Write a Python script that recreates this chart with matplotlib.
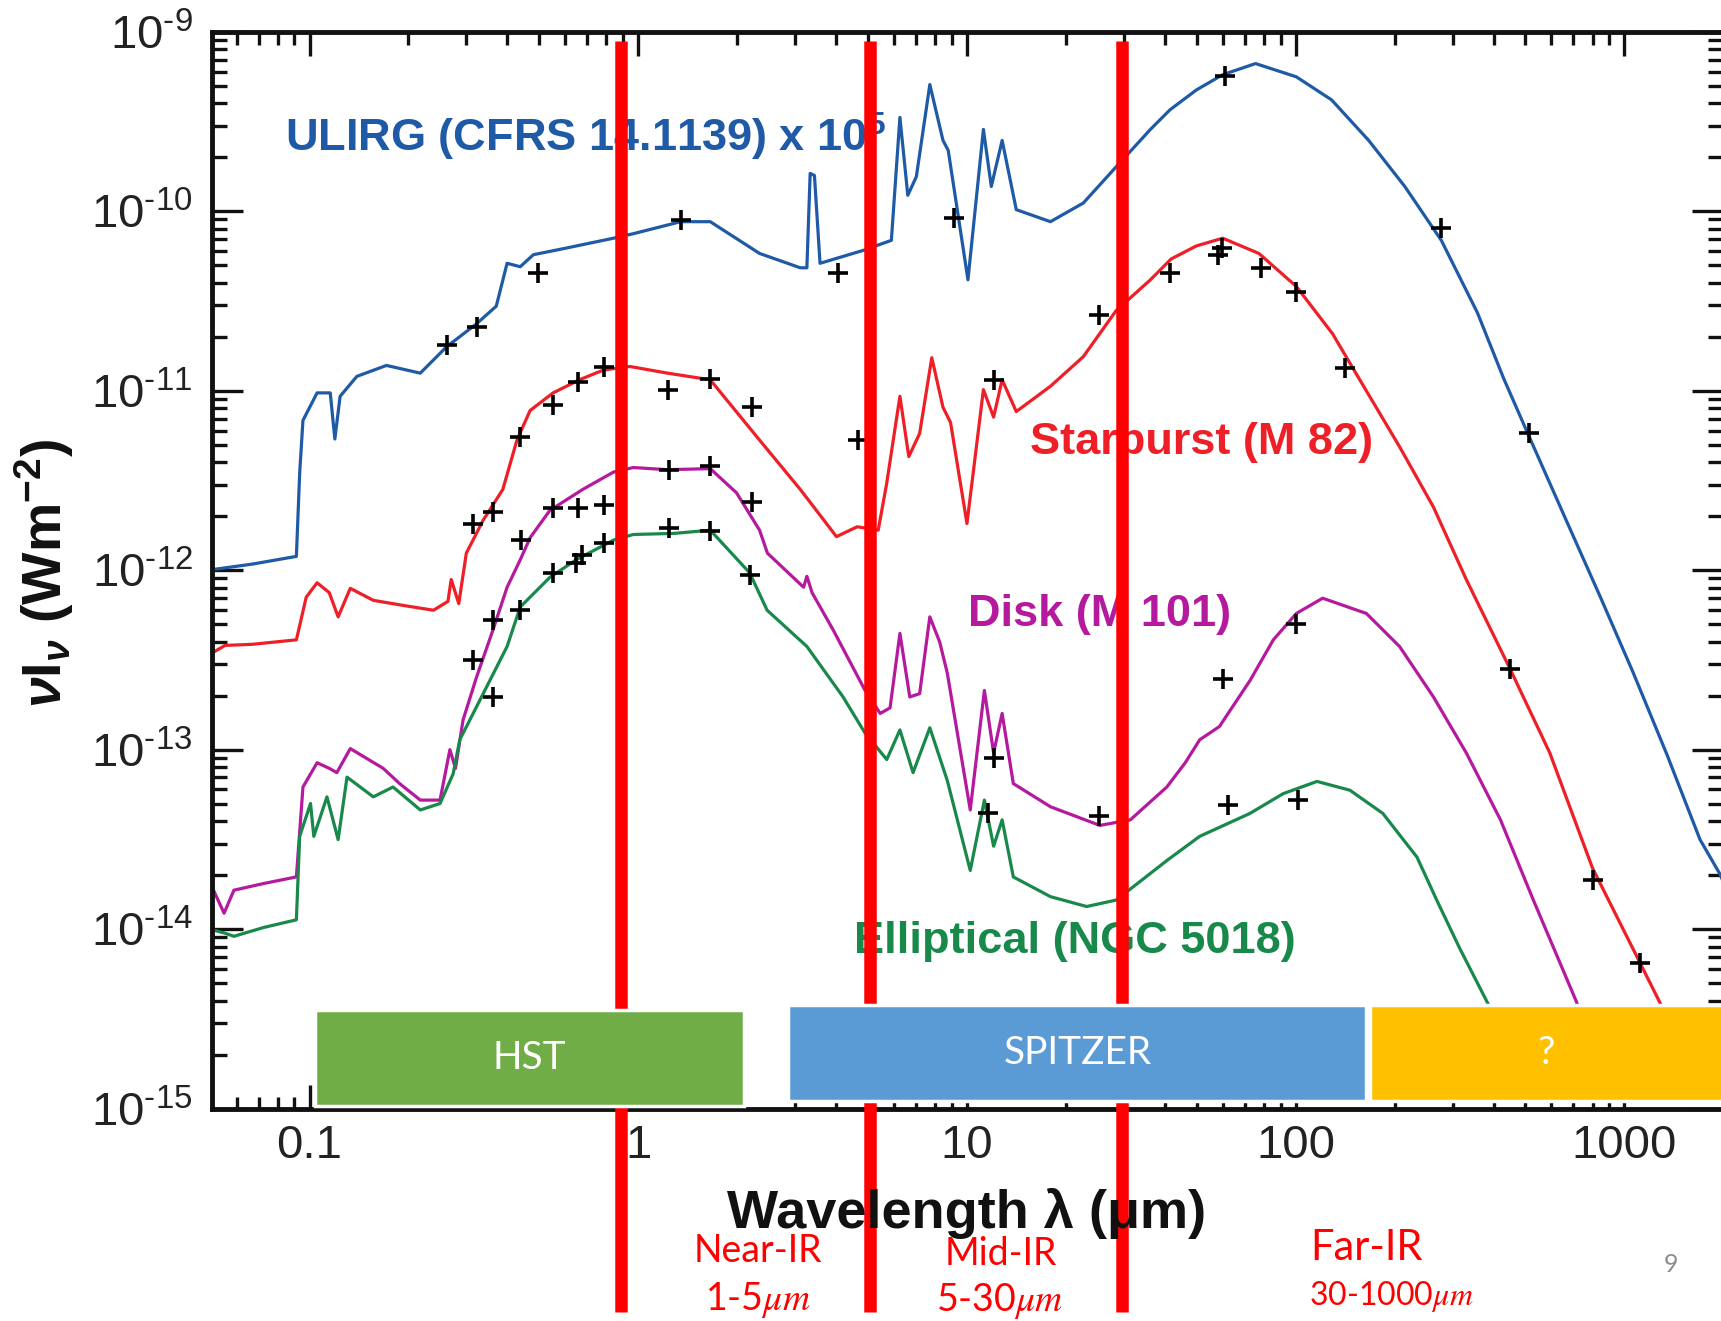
import numpy as np
import matplotlib
matplotlib.use('Agg')
import matplotlib.pyplot as plt
from matplotlib.patches import Rectangle
from matplotlib.ticker import LogLocator, NullFormatter

plt.rcParams['font.family'] = 'Liberation Sans'
plt.rcParams['mathtext.fontset'] = 'custom'
plt.rcParams['mathtext.rm'] = 'Liberation Sans'
plt.rcParams['mathtext.it'] = 'Liberation Sans:italic'
plt.rcParams['mathtext.bf'] = 'Liberation Sans:bold'
plt.rcParams['mathtext.bfit'] = 'Liberation Sans:bold:italic'

# SED templates: (log10 lambda/um, log10 nuI_nu / W m^-2)
ulirg_sed = [(-1.297, -11.997), (-1.174, -11.966), (-1.040, -11.923), (-1.030, -11.459), (-1.020, -11.165),
             (-0.977, -11.012), (-0.937, -11.012), (-0.923, -11.269), (-0.907, -11.031), (-0.856, -10.920),
             (-0.766, -10.859), (-0.663, -10.902), (-0.583, -10.755), (-0.492, -10.627), (-0.432, -10.529),
             (-0.399, -10.290), (-0.359, -10.309), (-0.319, -10.242), (-0.219, -10.205), (-0.075, -10.150),
             (-0.015, -10.125), (0.129, -10.058), (0.219, -10.058), (0.369, -10.235), (0.493, -10.315),
             (0.513, -10.315), (0.523, -9.789), (0.536, -9.801), (0.553, -10.290), (0.686, -10.217),
             (0.770, -10.162), (0.796, -9.477), (0.820, -9.911), (0.846, -9.807), (0.887, -9.294),
             (0.927, -9.605), (0.943, -9.661), (1.003, -10.382), (1.050, -9.544), (1.074, -9.862),
             (1.107, -9.605), (1.150, -9.991), (1.254, -10.058), (1.354, -9.954), (1.454, -9.752),
             (1.558, -9.544), (1.618, -9.434), (1.698, -9.324), (1.778, -9.239), (1.878, -9.177),
             (2.002, -9.251), (2.109, -9.379), (2.222, -9.605), (2.332, -9.862), (2.443, -10.162),
             (2.553, -10.566), (2.633, -10.933), (2.706, -11.238), (2.823, -11.722), (2.927, -12.150),
             (3.027, -12.572), (3.130, -13.030), (3.230, -13.501), (3.290, -13.691), (3.334, -13.875)]
ulirg_pts = [(-0.583, -10.743), (-0.492, -10.645), (-0.305, -10.346), (0.129, -10.046), (0.609, -10.346),
             (0.960, -10.040), (1.785, -9.245), (2.443, -10.095), (2.710, -11.238)]

starburst_sed = [(-1.297, -12.462), (-1.257, -12.419), (-1.174, -12.413), (-1.040, -12.388), (-1.010, -12.150),
                 (-0.977, -12.070), (-0.940, -12.125), (-0.913, -12.260), (-0.876, -12.101), (-0.806, -12.168),
                 (-0.706, -12.199), (-0.623, -12.223), (-0.579, -12.174), (-0.569, -12.052), (-0.546, -12.186),
                 (-0.523, -11.905), (-0.472, -11.722), (-0.412, -11.550), (-0.369, -11.275), (-0.329, -11.110),
                 (-0.259, -11.012), (-0.179, -10.939), (-0.105, -10.884), (-0.025, -10.865), (0.089, -10.902),
                 (0.219, -10.939), (0.369, -11.275), (0.493, -11.550), (0.603, -11.813), (0.666, -11.758),
                 (0.730, -11.777), (0.756, -11.514), (0.796, -11.031), (0.823, -11.367), (0.856, -11.238),
                 (0.893, -10.816), (0.927, -11.092), (0.950, -11.177), (1.000, -11.740), (1.050, -10.994),
                 (1.081, -11.147), (1.107, -10.939), (1.150, -11.116), (1.254, -10.975), (1.354, -10.810),
                 (1.454, -10.553), (1.558, -10.382), (1.621, -10.266), (1.698, -10.193), (1.778, -10.150),
                 (1.888, -10.235), (2.002, -10.419), (2.112, -10.682), (2.195, -10.939), (2.316, -11.312),
                 (2.419, -11.648), (2.519, -12.052), (2.653, -12.553), (2.773, -13.018), (2.903, -13.660),
                 (3.047, -14.186), (3.100, -14.380), (3.200, -14.750)]
starburst_pts = [(-0.502, -11.740), (-0.442, -11.673), (-0.359, -11.257), (-0.259, -11.079), (-0.182, -10.951),
                 (-0.105, -10.865), (0.092, -10.994), (0.219, -10.933), (0.346, -11.092), (0.669, -11.275),
                 (1.081, -10.939), (1.401, -10.578), (1.618, -10.346), (1.765, -10.242), (1.775, -10.205),
                 (1.895, -10.315), (2.002, -10.449), (2.149, -10.871), (2.653, -12.553), (2.903, -13.728),
                 (3.047, -14.186)]

disk_sed = [(-1.297, -13.764), (-1.260, -13.911), (-1.230, -13.783), (-1.140, -13.746), (-1.040, -13.709),
            (-1.020, -13.208), (-0.977, -13.073), (-0.940, -13.104), (-0.917, -13.128), (-0.876, -12.994),
            (-0.776, -13.104), (-0.726, -13.189), (-0.663, -13.281), (-0.603, -13.281), (-0.573, -13.000),
            (-0.556, -13.104), (-0.533, -12.835), (-0.492, -12.596), (-0.442, -12.333), (-0.399, -12.095),
            (-0.359, -11.942), (-0.329, -11.819), (-0.269, -11.667), (-0.169, -11.550), (-0.075, -11.453),
            (-0.015, -11.428), (0.089, -11.440), (0.219, -11.434), (0.299, -11.569), (0.369, -11.777),
            (0.393, -11.905), (0.503, -12.095), (0.513, -12.034), (0.529, -12.126), (0.593, -12.333),
            (0.690, -12.670), (0.736, -12.798), (0.766, -12.767), (0.796, -12.352), (0.826, -12.706),
            (0.856, -12.688), (0.887, -12.260), (0.917, -12.400), (0.940, -12.572), (1.010, -13.336),
            (1.053, -12.670), (1.081, -13.018), (1.107, -12.798), (1.141, -13.189), (1.254, -13.318),
            (1.404, -13.422), (1.497, -13.391), (1.608, -13.208), (1.664, -13.073), (1.708, -12.945),
            (1.768, -12.871), (1.861, -12.615), (1.932, -12.388), (2.002, -12.241), (2.082, -12.156),
            (2.215, -12.241), (2.316, -12.425), (2.419, -12.706), (2.519, -13.018), (2.623, -13.391),
            (2.723, -13.838), (2.853, -14.400), (2.933, -14.786)]
disk_pts = [(-0.502, -12.498), (-0.442, -12.278), (-0.356, -11.832), (-0.259, -11.654), (-0.182, -11.654),
            (-0.105, -11.636), (0.095, -11.440), (0.219, -11.422), (0.346, -11.618), (1.081, -13.049),
            (1.401, -13.367), (1.778, -12.608), (2.002, -12.297)]

elliptical_sed = [(-1.297, -14.003), (-1.260, -14.021), (-1.230, -14.040), (-1.140, -13.991), (-1.040, -13.948),
                  (-1.030, -13.483), (-0.997, -13.300), (-0.987, -13.483), (-0.947, -13.263), (-0.913, -13.501),
                  (-0.886, -13.153), (-0.806, -13.263), (-0.746, -13.208), (-0.663, -13.336), (-0.603, -13.300),
                  (-0.563, -13.134), (-0.543, -12.945), (-0.482, -12.725), (-0.399, -12.425), (-0.359, -12.205),
                  (-0.269, -12.040), (-0.189, -11.942), (-0.075, -11.832), (-0.015, -11.801), (0.109, -11.795),
                  (0.219, -11.777), (0.339, -12.015), (0.392, -12.223), (0.513, -12.425), (0.623, -12.706),
                  (0.690, -12.908), (0.756, -13.055), (0.796, -12.890), (0.836, -13.128), (0.887, -12.878),
                  (0.940, -13.171), (1.010, -13.673), (1.053, -13.281), (1.081, -13.538), (1.107, -13.391),
                  (1.141, -13.709), (1.254, -13.819), (1.364, -13.874), (1.454, -13.838), (1.608, -13.618),
                  (1.708, -13.483), (1.861, -13.355), (1.962, -13.245), (2.065, -13.177), (2.165, -13.226),
                  (2.265, -13.355), (2.369, -13.599), (2.429, -13.838), (2.499, -14.107), (2.586, -14.419),
                  (2.666, -14.725)]
elliptical_pts = [(-0.442, -12.706), (-0.359, -12.223), (-0.259, -12.015), (-0.189, -11.960), (-0.172, -11.917),
                  (-0.105, -11.850), (0.095, -11.764), (0.219, -11.783), (0.339, -12.027), (1.063, -13.355),
                  (1.795, -13.306), (2.008, -13.281)]

series_colors = ['#1f5aa6', '#ee1f26', '#b51a9e', '#18894b']
series_labels = ['ULIRG (CFRS 14.1139) x 10$^{\\mathbf{5}}$', 'Starburst (M 82)', 'Disk (M 101)',
                 'Elliptical (NGC 5018)']
label_lam = [0.0845, 15.5, 10.07, 4.53]
label_flux = [2.6e-10, 5.16e-12, 5.65e-13, 8.51e-15]

xtick_vals = [0.1, 1, 10, 100, 1000]
xtick_labels = ['0.1', '1', '10', '100', '1000']
ytick_vals = [1e-15, 1e-14, 1e-13, 1e-12, 1e-11, 1e-10, 1e-9]
ytick_labels = ['10$^{\\text{-15}}$', '10$^{\\text{-14}}$', '10$^{\\text{-13}}$', '10$^{\\text{-12}}$',
                '10$^{\\text{-11}}$', '10$^{\\text{-10}}$', '10$^{\\text{-9}}$']

band_edges = [0.887, 5.08, 29.6]
box_names = ['HST', 'SPITZER', '?']
box_lam_lo = [0.104, 2.86, 168]
box_lam_hi = [2.10, 164, 2000]
box_f_lo = [1.03e-15, 1.10e-15, 1.10e-15]
box_f_hi = [3.55e-15, 3.76e-15, 3.76e-15]
box_colors = ['#70ad47', '#5b9bd5', '#ffc000']

W, H = 1721, 1321
fig = plt.figure(figsize=(W / 100, H / 100), dpi=100)
ax = fig.add_axes([212 / W, 1 - 1108.6 / H, (1723 - 212) / W, 1076.8 / H])

seds = [ulirg_sed, starburst_sed, disk_sed, elliptical_sed]
pts = [ulirg_pts, starburst_pts, disk_pts, elliptical_pts]
for sed, p, c in zip(seds, pts, series_colors):
    s = np.array(sed)
    ax.plot(10 ** s[:, 0], 10 ** s[:, 1], color=c, lw=2.3, zorder=2)
    q = np.array(p)
    ax.plot(10 ** q[:, 0], 10 ** q[:, 1], ls='none', marker='+', ms=15, mew=2.6, color='black', zorder=3)

for lab, lx, ly, c in zip(series_labels, label_lam, label_flux, series_colors):
    ax.text(lx, ly, lab, color=c, fontsize=32.5, fontweight='bold', ha='left', va='center', zorder=3)

ax.set_xscale('log')
ax.set_yscale('log')
ax.set_xlim(0.0505, 1995)
ax.set_ylim(1e-15, 1e-9)
ax.set_xticks(xtick_vals, xtick_labels)
ax.set_yticks(ytick_vals, ytick_labels)
ax.xaxis.set_minor_locator(LogLocator(base=10, subs=np.arange(2, 10), numticks=100))
ax.yaxis.set_minor_locator(LogLocator(base=10, subs=np.arange(2, 10), numticks=100))
ax.xaxis.set_minor_formatter(NullFormatter())
ax.yaxis.set_minor_formatter(NullFormatter())
ax.tick_params(which='both', direction='in', top=True, right=True, width=2.4, colors='#111111',
               labelsize=34, labelcolor='#222222')
ax.tick_params(axis='x', which='major', length=17, pad=11)
ax.tick_params(axis='x', which='minor', length=9)
ax.tick_params(axis='y', which='major', length=22, pad=14)
ax.tick_params(axis='y', which='minor', length=11)
for sp in ax.spines.values():
    sp.set_linewidth(3.5)
    sp.set_color('#111111')

# slide overlay: band boundaries and telescope boxes
for lam in band_edges:
    ax.plot([lam, lam], [0.9915, -0.189], transform=ax.get_xaxis_transform(), color='#ff0000',
            lw=9, solid_capstyle='butt', clip_on=False, zorder=4)
for name, lo, hi, flo, fhi, c in zip(box_names, box_lam_lo, box_lam_hi, box_f_lo, box_f_hi, box_colors):
    ax.add_patch(Rectangle((lo, flo), hi - lo, fhi - flo, facecolor=c, edgecolor='white', lw=2.5,
                           clip_on=False, zorder=5))
    ax.text(np.sqrt(lo * hi), np.sqrt(flo * fhi), name, color='white', fontsize=28, family='Lato',
            ha='center', va='center', zorder=6)

fig.text(44 / W, 1 - 573 / H, r'$\mathbfit{\nu}\mathbf{I}_{\mathbfit{\nu}}\ \mathbf{(Wm^{-2})}$',
         rotation=90, fontsize=40, ha='center', va='center', color='#111111')
fig.text(967 / W, 1 - 1213 / H, 'Wavelength \u03bb (\u03bcm)', fontsize=39, fontweight='bold',
         ha='center', va='center', color='#111111')

red = '#ff0000'
fig.text(758 / W, 1 - 1251 / H, 'Near-IR', color=red, fontsize=27, family='Lato', ha='center', va='center')
fig.text(758 / W, 1 - 1300 / H, r'1-5$\mu m$', color=red, fontsize=27, family='Lato', math_fontfamily='stix',
         ha='center', va='center')
fig.text(1001 / W, 1 - 1254 / H, 'Mid-IR', color=red, fontsize=27, family='Lato', ha='center', va='center')
fig.text(1000 / W, 1 - 1301 / H, r'5-30$\mu m$', color=red, fontsize=27, family='Lato', math_fontfamily='stix',
         ha='center', va='center')
fig.text(1366 / W, 1 - 1248 / H, 'Far-IR', color=red, fontsize=30, family='Lato', ha='center', va='center')
fig.text(1309 / W, 1 - 1297 / H, r'30-1000$\mu m$', color=red, fontsize=23, family='Lato', math_fontfamily='stix',
         ha='left', va='center')
fig.text(1671 / W, 1 - 1264 / H, '9', color='#8c8c8c', fontsize=18, family='Lato', ha='center', va='center')

fig.savefig('out.png', dpi=100)
